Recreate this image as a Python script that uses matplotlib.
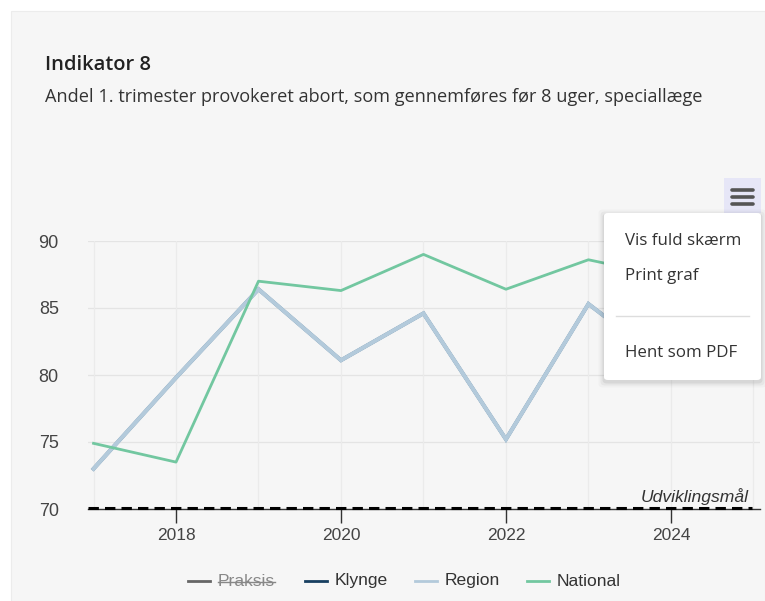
import matplotlib
matplotlib.use("Agg")
import matplotlib.pyplot as plt
from matplotlib.patches import Rectangle, FancyBboxPatch
from matplotlib.lines import Line2D

# ---------------- data ----------------
years = [2017, 2018, 2019, 2020, 2021, 2022, 2023, 2024, 2025]
region = [73.0, 79.8, 86.4, 81.1, 84.6, 75.2, 85.3, 80.6, 82.0]
klynge = [73.0, 79.8, 86.4, 81.1, 84.6, 75.2, 85.3, 80.6, 82.0]
national = [74.9, 73.5, 87.0, 86.3, 89.0, 86.4, 88.6, 87.3, 88.0]
target = 70
yticks = [70, 75, 80, 85, 90]
xticks = [2018, 2020, 2022, 2024]
legend_names = ["Praksis", "Klynge", "Region", "National"]
title = "Indikator 8"
subtitle = "Andel 1. trimester provokeret abort, som gennemføres før 8 uger, speciallæge"
menu_items = ["Vis fuld skærm", "Print graf", "Hent som PDF"]

# ---------------- figure ----------------
W, H = 765, 601
fig = plt.figure(figsize=(W / 100, H / 100), dpi=100)
fig.patch.set_facecolor("white")
BG = "#f6f6f6"

def fx(x):
    return x / W

def fy(y):
    return 1 - y / H

fig.patches.append(Rectangle((fx(11), 0), 1 - fx(11), fy(11), transform=fig.transFigure,
                             facecolor=BG, edgecolor="#ececec", lw=0.8, zorder=-5))

font = "Liberation Sans"
tfont = "Open Sans"

fig.text(fx(45), fy(65), title, fontsize=14.5, fontweight="semibold", family=tfont,
         color="#222222", va="center", ha="left")
fig.text(fx(45), fy(97), subtitle, fontsize=13.1, family=tfont, color="#333333",
         va="center", ha="left")

left, right, top, bottom = 88, 760, 241, 509
ax = fig.add_axes([fx(left), fy(bottom), fx(right) - fx(left), fy(top) - fy(bottom)])
ax.set_zorder(1)
ax.set_facecolor(BG)
ax.set_xlim(2016.933, 2025.08)
ax.set_ylim(70, 90)

for yv in yticks[1:]:
    ax.axhline(yv, color="#e4e4e4", lw=0.9, zorder=1)
for xv in years:
    ax.axvline(xv, color="#ebebeb", lw=0.9, zorder=1)

ax.plot(years, klynge, color="#1d4a6e", lw=2.6, zorder=3, solid_joinstyle="miter")
ax.plot(years, region, color="#b3cadb", lw=3.0, zorder=4, solid_joinstyle="miter")
ax.plot(years, national, color="#72c7a0", lw=2.0, zorder=5)

for s in ["top", "right", "left"]:
    ax.spines[s].set_visible(False)
ax.spines["bottom"].set_color("#333333")
ax.spines["bottom"].set_linewidth(1.0)
ax.spines["bottom"].set_zorder(2)

tl = ax.axhline(target + 0.06, color="black", lw=2.2, ls=(0, (3.4, 2.0)), zorder=6,
                xmax=(752 - left) / (right - left))
tl.set_clip_on(False)
ax.text(2025.0 - 0.06, 70.3, "Udviklingsmål", fontstyle="italic", fontsize=12.6,
        family=font, color="#333333", ha="right", va="bottom", zorder=7)

ax.set_xticks(xticks)
ax.set_xticklabels([str(x) for x in xticks])
ax.set_yticks(yticks)
ax.set_yticklabels([str(y) for y in yticks])
ax.tick_params(axis="x", length=10, width=1, color="#333333", labelsize=12.5,
               labelcolor="#444444", pad=4)
ax.tick_params(axis="y", length=0, labelsize=13, labelcolor="#444444", pad=21)
for lab in ax.get_xticklabels() + ax.get_yticklabels():
    lab.set_family(font)

# ---------------- legend ----------------
leg_y = 581
leg_items = [
    (legend_names[0], "#666666", "#888888", 188),
    (legend_names[1], "#173f60", "#333333", 305),
    (legend_names[2], "#b3cadb", "#333333", 415),
    (legend_names[3], "#72c7a0", "#333333", 527),
]
fig.canvas.draw()
renderer = fig.canvas.get_renderer()
for name, lc, tc, x0 in leg_items:
    fig.add_artist(Line2D([fx(x0), fx(x0 + 22)], [fy(leg_y), fy(leg_y)],
                          transform=fig.transFigure, color=lc, lw=2))
    t = fig.text(fx(x0 + 30), fy(leg_y), name, fontsize=12.6, family=font, color=tc,
                 va="center", ha="left")
    if name == legend_names[0]:
        bb = t.get_window_extent(renderer=renderer)
        fig.add_artist(Line2D([bb.x0 / W, bb.x1 / W], [fy(leg_y + 1), fy(leg_y + 1)],
                              transform=fig.transFigure, color="#888888", lw=1))

# ---------------- export menu ----------------
fig.patches.append(Rectangle((fx(724), fy(213)), fx(761) - fx(724), fy(178) - fy(213),
                             transform=fig.transFigure, facecolor="#e6e6f7",
                             edgecolor="none", zorder=8))
for by in [190, 197, 204]:
    fig.add_artist(Line2D([fx(732), fx(753)], [fy(by), fy(by)], transform=fig.transFigure,
                          color="#555555", lw=2.6, solid_capstyle="round", zorder=9))
# shadow
for i, a in enumerate([0.06, 0.04, 0.025]):
    d = 1.5 + i * 2
    fig.patches.append(FancyBboxPatch((fx(604 - d), fy(380 + d + 2)),
                                      (157 + 2 * d) / W, (167 + 2 * d) / H,
                                      boxstyle="round,pad=0,rounding_size=0.006",
                                      transform=fig.transFigure, facecolor="black",
                                      alpha=a, edgecolor="none", zorder=8))
fig.patches.append(FancyBboxPatch((fx(604), fy(380)), fx(761) - fx(604), fy(213) - fy(380),
                                  boxstyle="round,pad=0,rounding_size=0.005",
                                  transform=fig.transFigure, facecolor="white",
                                  edgecolor="none", zorder=9))
for txt, yy in zip(menu_items, [241, 276, 353]):
    fig.text(fx(625), fy(yy), txt, fontsize=12.2, family="Open Sans", color="#333333",
             va="center", ha="left", zorder=10)
fig.add_artist(Line2D([fx(616), fx(749)], [fy(316), fy(316)], transform=fig.transFigure,
                      color="#dddddd", lw=1, zorder=10))

fig.savefig("out.png", dpi=100, facecolor=fig.get_facecolor())
